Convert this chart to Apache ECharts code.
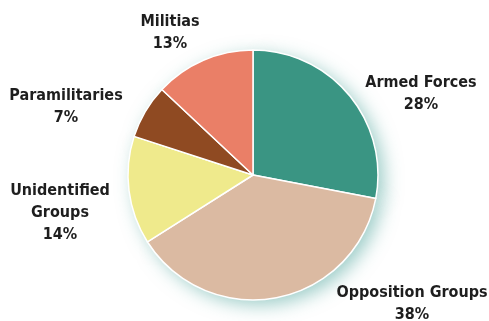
<!DOCTYPE html>
<html>
<head>
<meta charset="utf-8">
<script src="https://cdn.jsdelivr.net/npm/echarts@6/dist/echarts.min.js"></script>
<style>
  html, body { margin: 0; padding: 0; background: #fff; }
  #chart { width: 489px; height: 321px; }
</style>
</head>
<body>
<div id="chart"></div>
<script>
const categories = ['Armed Forces', 'Opposition Groups', 'Unidentified\nGroups', 'Paramilitaries', 'Militias'];
const shares = [28, 38, 14, 7, 13];
const colors = ['#3a9583', '#dbbaa2', '#efea8c', '#8f4a22', '#ea7f67'];
// label centres (layout only)
const labelPos = [[421, 94], [412, 304], [60, 213], [66, 107], [170, 33]];

const center = [253, 175];
const radius = 125;

const myChart = echarts.init(document.getElementById('chart'));
myChart.setOption({
  animation: false,
  series: [{
    // soft teal glow behind the pie
    type: 'pie',
    silent: true,
    center: center,
    radius: radius,
    z: 1,
    itemStyle: {
      color: '#fff',
      shadowColor: 'rgba(60,155,145,0.5)',
      shadowBlur: 18,
      shadowOffsetX: 6,
      shadowOffsetY: 5
    },
    label: { show: false },
    labelLine: { show: false },
    data: shares.map((v) => ({ value: v }))
  }, {
    type: 'pie',
    center: center,
    radius: radius,
    z: 2,
    startAngle: 90,
    clockwise: true,
    itemStyle: {
      borderColor: '#fff',
      borderWidth: 1.5
    },
    label: {
      show: true,
      position: 'outside',
      overflow: 'none',
      formatter: (p) => p.name + '\n' + p.value + '%',
      fontFamily: '"DejaVu Sans Condensed", "Liberation Sans Narrow", sans-serif',
      fontWeight: 'bold',
      fontSize: 16,
      lineHeight: 22,
      color: '#1e1e1e',
      align: 'center'
    },
    labelLine: { show: false },
    labelLayout: (params) => {
      const pos = labelPos[params.dataIndex];
      return { x: pos[0], y: pos[1], align: 'center', verticalAlign: 'middle' };
    },
    data: categories.map((name, i) => ({
      name: name,
      value: shares[i],
      itemStyle: { color: colors[i] }
    }))
  }]
});
</script>
</body>
</html>
